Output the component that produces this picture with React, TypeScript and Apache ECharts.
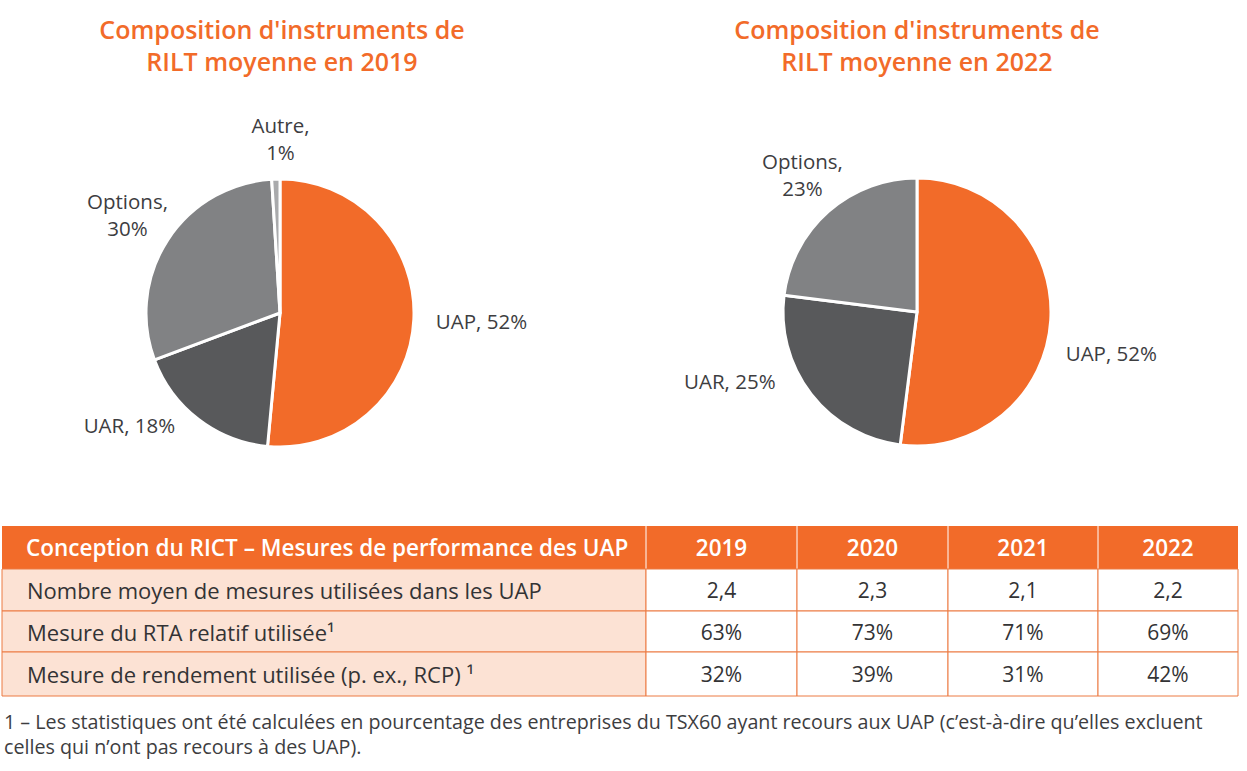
import React, { useEffect, useRef } from "react";
import * as echarts from "echarts";

const pie2019Names = ["UAP", "UAR", "Options", "Autre"];
const pie2019Values = [52, 18, 30, 1];
const pie2022Names = ["UAP", "UAR", "Options"];
const pie2022Values = [52, 25, 23];
const wrapLabels = ["Options", "Autre"];

const titles = [
  "Composition d'instruments de\nRILT moyenne en 2019",
  "Composition d'instruments de\nRILT moyenne en 2022",
];

const tableHeader = "Conception du RICT – Mesures de performance des UAP";
const tableYears = ["2019", "2020", "2021", "2022"];
const rowLabels = [
  "Nombre moyen de mesures utilisées dans les UAP",
  "Mesure du RTA relatif utilisée¹",
  "Mesure de rendement utilisée (p. ex., RCP) ¹",
];
const rowAvgMeasures = ["2,4", "2,3", "2,1", "2,2"];
const rowRelTSR = ["63%", "73%", "71%", "69%"];
const rowReturn = ["32%", "39%", "31%", "42%"];
const footnote =
  "1 – Les statistiques ont été calculées en pourcentage des entreprises du TSX60 ayant recours aux UAP (c’est-à-dire qu’elles excluent\ncelles qui n’ont pas recours à des UAP).";

const COLORS: Record<string, string> = {
  UAP: "#F26B29",
  UAR: "#58595B",
  Options: "#818284",
  Autre: "#A9AAAC",
};
const ORANGE = "#F26B29";
const FONT = "'Open Sans', Roboto, sans-serif";

function makePie(names: string[], values: number[], center: number[], offsets: number[][]) {
  return {
    type: "pie",
    center,
    radius: 134,
    startAngle: 90,
    clockwise: true,
    avoidLabelOverlap: false,
    data: names.map((n, i) => ({ name: n, value: values[i], itemStyle: { color: COLORS[n] } })),
    itemStyle: { borderColor: "#ffffff", borderWidth: 3 },
    label: {
      show: true,
      position: "outside",
      color: "#3d3d3f",
      fontFamily: FONT,
      fontSize: 20.5,
      lineHeight: 27,
      formatter: (p: any) =>
        `${p.name},${wrapLabels.includes(p.name) ? "\n" : " "}${p.value}%`,
    },
    labelLine: { show: false, length: 12, length2: 8 },
    labelLayout: (p: any) => {
      const o = offsets[p.dataIndex];
      const res: any = { dx: o[0], dy: o[1] };
      if (wrapLabels.includes(names[p.dataIndex])) res.align = "center";
      return res;
    },
    emphasis: { disabled: true },
  };
}

export default function App() {
  const ref = useRef<HTMLDivElement>(null);
  useEffect(() => {
    if (!ref.current) return;
    const chart = echarts.init(ref.current, null, { renderer: "svg" });

    const tableX = [2, 646, 797, 948, 1098, 1238];
    const tableY = [526, 569, 611, 652, 696];
    const gridColor = "#EC7A42";
    const rows = [rowAvgMeasures, rowRelTSR, rowReturn];
    const elements: any[] = [];

    titles.forEach((t, i) => {
      elements.push({
        type: "text",
        x: i === 0 ? 282 : 917,
        y: 45,
        style: {
          text: t,
          fill: ORANGE,
          font: `600 25px ${FONT}`,
          lineHeight: 32,
          align: "center",
          verticalAlign: "middle",
        },
      });
    });

    elements.push({
      type: "rect",
      shape: { x: tableX[0], y: tableY[0], width: tableX[5] - tableX[0], height: tableY[1] - tableY[0] },
      style: { fill: ORANGE },
    });
    for (let c = 1; c < 5; c++) {
      elements.push({
        type: "line",
        shape: { x1: tableX[c], y1: tableY[0], x2: tableX[c], y2: tableY[1] },
        style: { stroke: "#ffffff", lineWidth: 1 },
      });
    }
    elements.push({
      type: "text",
      x: 26,
      y: (tableY[0] + tableY[1]) / 2,
      style: { text: tableHeader, fill: "#ffffff", font: `600 22.5px ${FONT}`, verticalAlign: "middle" },
    });
    tableYears.forEach((yr, c) => {
      elements.push({
        type: "text",
        x: (tableX[c + 1] + tableX[c + 2]) / 2,
        y: (tableY[0] + tableY[1]) / 2,
        style: { text: yr, fill: "#ffffff", font: `600 22.5px ${FONT}`, align: "center", verticalAlign: "middle" },
      });
    });
    rows.forEach((vals, r) => {
      const y0 = tableY[r + 1];
      const y1 = tableY[r + 2];
      elements.push({
        type: "rect",
        shape: { x: tableX[0], y: y0, width: tableX[1] - tableX[0], height: y1 - y0 },
        style: { fill: "#FCE2D4", stroke: gridColor, lineWidth: 1 },
      });
      elements.push({
        type: "text",
        x: 27,
        y: (y0 + y1) / 2,
        style: { text: rowLabels[r], fill: "#333335", font: `22px ${FONT}`, verticalAlign: "middle" },
      });
      vals.forEach((v, c) => {
        elements.push({
          type: "rect",
          shape: { x: tableX[c + 1], y: y0, width: tableX[c + 2] - tableX[c + 1], height: y1 - y0 },
          style: { fill: "#ffffff", stroke: gridColor, lineWidth: 1 },
        });
        elements.push({
          type: "text",
          x: (tableX[c + 1] + tableX[c + 2]) / 2,
          y: (y0 + y1) / 2,
          style: { text: v, fill: "#333335", font: `21px ${FONT}`, align: "center", verticalAlign: "middle" },
        });
      });
    });
    elements.push({
      type: "text",
      x: 4,
      y: 709,
      style: { text: footnote, fill: "#3d3d3f", font: `19.7px ${FONT}`, lineHeight: 25, verticalAlign: "top" },
    });

    chart.setOption({
      animation: false,
      backgroundColor: "#ffffff",
      series: [
        makePie(pie2019Names, pie2019Values, [280, 313], [[-3, 1], [-3, -4], [-17, -19], [18, -29]]),
        makePie(pie2022Names, pie2022Values, [917, 312], [[-10, 32], [-13, -20], [-5, -28]]),
      ],
      graphic: { elements },
    });
    return () => chart.dispose();
  }, []);
  return (
    <div
      ref={ref}
      style={{ position: "fixed", left: 0, top: 0, width: 1247, height: 771, background: "#fff" }}
    />
  );
}
